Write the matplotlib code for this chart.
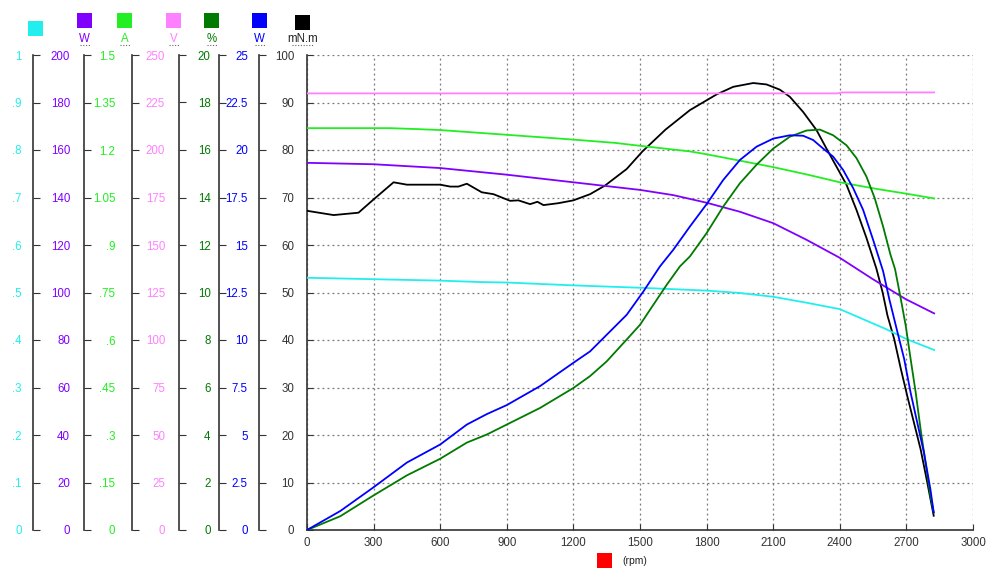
import matplotlib
matplotlib.use("Agg")
import matplotlib.pyplot as plt
from matplotlib.patches import Rectangle
from matplotlib.lines import Line2D

plt.rcParams['font.family'] = ['Liberation Sans Narrow', 'Liberation Sans', 'DejaVu Sans']

# ---------------- data ----------------
# Torque (mN.m) - main axis
torque_rpm = [0, 120, 232, 300, 390, 450, 600, 645, 682, 720, 787, 840, 915, 952, 1005, 1038, 1065,
              1132, 1200, 1275, 1342, 1440, 1511, 1615, 1725, 1845, 1920, 2010, 2070, 2130, 2175,
              2235, 2295, 2340, 2385, 2430, 2475, 2520, 2565, 2593, 2615, 2645, 2675, 2704, 2734,
              2764, 2794, 2823]
torque_val = [67.2, 66.3, 66.8, 69.6, 73.2, 72.7, 72.7, 72.3, 72.3, 72.9, 71.1, 70.7, 69.3, 69.4, 68.6,
              69.1, 68.4, 68.8, 69.4, 70.7, 72.5, 76.0, 79.7, 84.3, 88.4, 91.7, 93.3, 94.1, 93.8, 92.7,
              91.2, 88.0, 84.2, 80.3, 76.5, 72.7, 67.4, 61.5, 55.0, 50.0, 45.1, 40.2, 33.9, 28.2, 22.6,
              17.0, 10.0, 3.0]

# Output power (W)
pout_rpm = [0, 150, 297, 450, 600, 720, 810, 900, 1050, 1200, 1275, 1350, 1440, 1515, 1590, 1650,
            1725, 1800, 1875, 1950, 2025, 2100, 2175, 2235, 2280, 2325, 2370, 2415, 2460, 2505,
            2550, 2595, 2623, 2660, 2690, 2719, 2749, 2779, 2808, 2823]
pout_val = [0, 1.0, 2.225, 3.55, 4.5, 5.55, 6.1, 6.575, 7.575, 8.8, 9.4, 10.275, 11.325, 12.55, 13.875,
            14.75, 15.975, 17.15, 18.425, 19.475, 20.175, 20.6, 20.775, 20.75, 20.525, 20.075, 19.65,
            18.95, 18.0, 16.85, 15.275, 13.625, 12.15, 10.4, 9.0, 7.225, 5.65, 4.075, 2.15, 0.925]

# Efficiency (%)
eff_rpm = [0, 150, 297, 450, 600, 720, 810, 900, 1050, 1200, 1275, 1350, 1440, 1500, 1560, 1620,
           1680, 1725, 1800, 1875, 1950, 2025, 2100, 2175, 2250, 2310, 2370, 2430, 2475, 2520,
           2557, 2595, 2628, 2649, 2675, 2697, 2719, 2742, 2764, 2786, 2808, 2823]
eff_val = [0, 0.58, 1.44, 2.3, 3.0, 3.68, 4.02, 4.44, 5.14, 5.98, 6.48, 7.1, 8.02, 8.64, 9.48, 10.32,
           11.1, 11.52, 12.5, 13.62, 14.6, 15.38, 16.06, 16.56, 16.82, 16.86, 16.62, 16.2, 15.66,
           14.88, 13.98, 12.78, 11.6, 10.98, 9.72, 8.6, 7.2, 5.78, 4.24, 2.84, 1.44, 0.74]

# Current (A)
amp_rpm = [0, 373, 497, 600, 900, 1197, 1387, 1497, 1725, 1800, 2100, 2256, 2400, 2567, 2700, 2825]
amp_val = [1.269, 1.269, 1.266, 1.263, 1.248, 1.233, 1.2225, 1.2135, 1.1955, 1.1865, 1.146, 1.122,
           1.098, 1.077, 1.062, 1.047]

# Input power (W)
pin_rpm = [0, 300, 600, 900, 1200, 1500, 1650, 1800, 1950, 2100, 2250, 2400, 2549, 2697, 2825]
pin_val = [154.6, 154.0, 152.4, 149.6, 146.4, 143.2, 141.0, 137.8, 134.0, 129.2, 122.2, 114.6,
           105.6, 97.2, 91.2]

# Power factor
pf_rpm = [0, 300, 600, 780, 900, 1200, 1500, 1800, 1950, 2100, 2256, 2311, 2400, 2489, 2608, 2700, 2825]
pf_val = [0.531, 0.528, 0.525, 0.522, 0.521, 0.515, 0.510, 0.504, 0.499, 0.491, 0.478, 0.473,
          0.465, 0.447, 0.423, 0.402, 0.379]

# Voltage (V)
volt_rpm = [0, 2390, 2410, 2825]
volt_val = [229.8, 229.8, 230.3, 230.3]

x_ticks = [0, 300, 600, 900, 1200, 1500, 1800, 2100, 2400, 2700, 3000]

pf_ticks = ['0', '.1', '.2', '.3', '.4', '.5', '.6', '.7', '.8', '.9', '1']
pin_ticks = ['0', '20', '40', '60', '80', '100', '120', '140', '160', '180', '200']
amp_ticks = ['0', '.15', '.3', '.45', '.6', '.75', '.9', '1.05', '1.2', '1.35', '1.5']
volt_ticks = ['0', '25', '50', '75', '100', '125', '150', '175', '200', '225', '250']
eff_ticks = ['0', '2', '4', '6', '8', '10', '12', '14', '16', '18', '20']
pout_ticks = ['0', '2.5', '5', '7.5', '10', '12.5', '15', '17.5', '20', '22.5', '25']
torque_ticks = ['0', '10', '20', '30', '40', '50', '60', '70', '80', '90', '100']

C_PF = '#22EEEE'
C_PIN = '#8000FF'
C_AMP = '#22EE22'
C_VOLT = '#FF80FF'
C_EFF = '#007A00'
C_POUT = '#0000FF'
C_TQ = '#000000'

# ---------------- figure ----------------
W, H = 1000, 580
fig = plt.figure(figsize=(W / 100, H / 100), dpi=100)
L, R, B, T = 307, 973, 530, 55
ax = fig.add_axes([L / W, 1 - B / H, (R - L) / W, (B - T) / H])

FS = 8.3
ax.set_xlim(0, 3000)
ax.set_ylim(0, 100)
ax.set_xticks(x_ticks)
ax.set_xticklabels([str(v) for v in x_ticks])
ax.set_yticks(range(0, 101, 10))
ax.set_yticklabels(torque_ticks)
ax.grid(True, linestyle=(0, (1.5, 2.5)), color='#777777', linewidth=0.9)
for s in ['top', 'right']:
    ax.spines[s].set_visible(False)
for s in ['left', 'bottom']:
    ax.spines[s].set_color('#333333')
    ax.spines[s].set_linewidth(1.2)
ax.tick_params(axis='both', direction='in', length=4, labelsize=FS, colors='#333333', pad=5)
ax.tick_params(axis='y', pad=9)

secondary = [
    (pf_rpm, pf_val, C_PF, 1.0, pf_ticks, 33, 8),
    (pin_rpm, pin_val, C_PIN, 200, pin_ticks, 84, 10),
    (amp_rpm, amp_val, C_AMP, 1.5, amp_ticks, 132, 12),
    (volt_rpm, volt_val, C_VOLT, 250, volt_ticks, 179, 10),
    (eff_rpm, eff_val, C_EFF, 20, eff_ticks, 219, 6),
    (pout_rpm, pout_val, C_POUT, 25, pout_ticks, 259, 8),
]

for rpm, val, col, vmax, labels, px, pad in secondary:
    a = ax.twinx()
    a.set_xlim(0, 3000)
    a.set_ylim(0, vmax)
    a.patch.set_visible(False)
    for s in ['top', 'right', 'bottom']:
        a.spines[s].set_visible(False)
    a.spines['left'].set_visible(True)
    a.spines['left'].set_position(('axes', (px - L) / (R - L)))
    a.spines['left'].set_color('#333333')
    a.spines['left'].set_linewidth(1.2)
    a.yaxis.set_ticks_position('left')
    a.yaxis.set_label_position('left')
    a.set_yticks([vmax * i / 10 for i in range(11)])
    a.set_yticklabels(labels)
    a.tick_params(axis='y', direction='in', length=5, color='#333333', labelcolor=col,
                  labelsize=FS, pad=pad)
    a.plot(rpm, val, color=col, linewidth=1.3, solid_joinstyle='round')

ax.plot(torque_rpm, torque_val, color=C_TQ, linewidth=1.3, zorder=5)

# ---------------- legend squares ----------------
legend = [
    (28, 21, C_PF, ''),
    (77, 13, C_PIN, 'W'),
    (117, 13, C_AMP, 'A'),
    (166, 13, C_VOLT, 'V'),
    (204, 13, C_EFF, '%'),
    (252, 13, C_POUT, 'W'),
    (295, 15, C_TQ, 'mN.m'),
]
for x0, y0, col, lab in legend:
    fig.add_artist(Rectangle((x0 / W, 1 - (y0 + 15) / H), 15 / W, 15 / H,
                             transform=fig.transFigure, facecolor=col, edgecolor='none'))
    if lab:
        cx = x0 + 7.5
        fig.text(cx / W, 1 - 39 / H, lab, color=col if col != C_TQ else '#222222',
                 fontsize=FS, ha='center', va='center')
        wdt = 6 + 4 * len(lab)
        fig.add_artist(Line2D([(cx - wdt / 2) / W, (cx + wdt / 2) / W], [1 - 45 / H, 1 - 45 / H],
                              transform=fig.transFigure, color='#666666', linewidth=0.8,
                              linestyle=(0, (1, 1.5))))

# x-axis unit marker
fig.add_artist(Rectangle((597 / W, 1 - 568 / H), 15 / W, 15 / H, transform=fig.transFigure,
                         facecolor='#FF0000', edgecolor='none'))
fig.text(622 / W, 1 - 561 / H, '(rpm)', fontsize=FS - 0.8, color='#222222', ha='left', va='center')

fig.savefig('out.png', dpi=100)
